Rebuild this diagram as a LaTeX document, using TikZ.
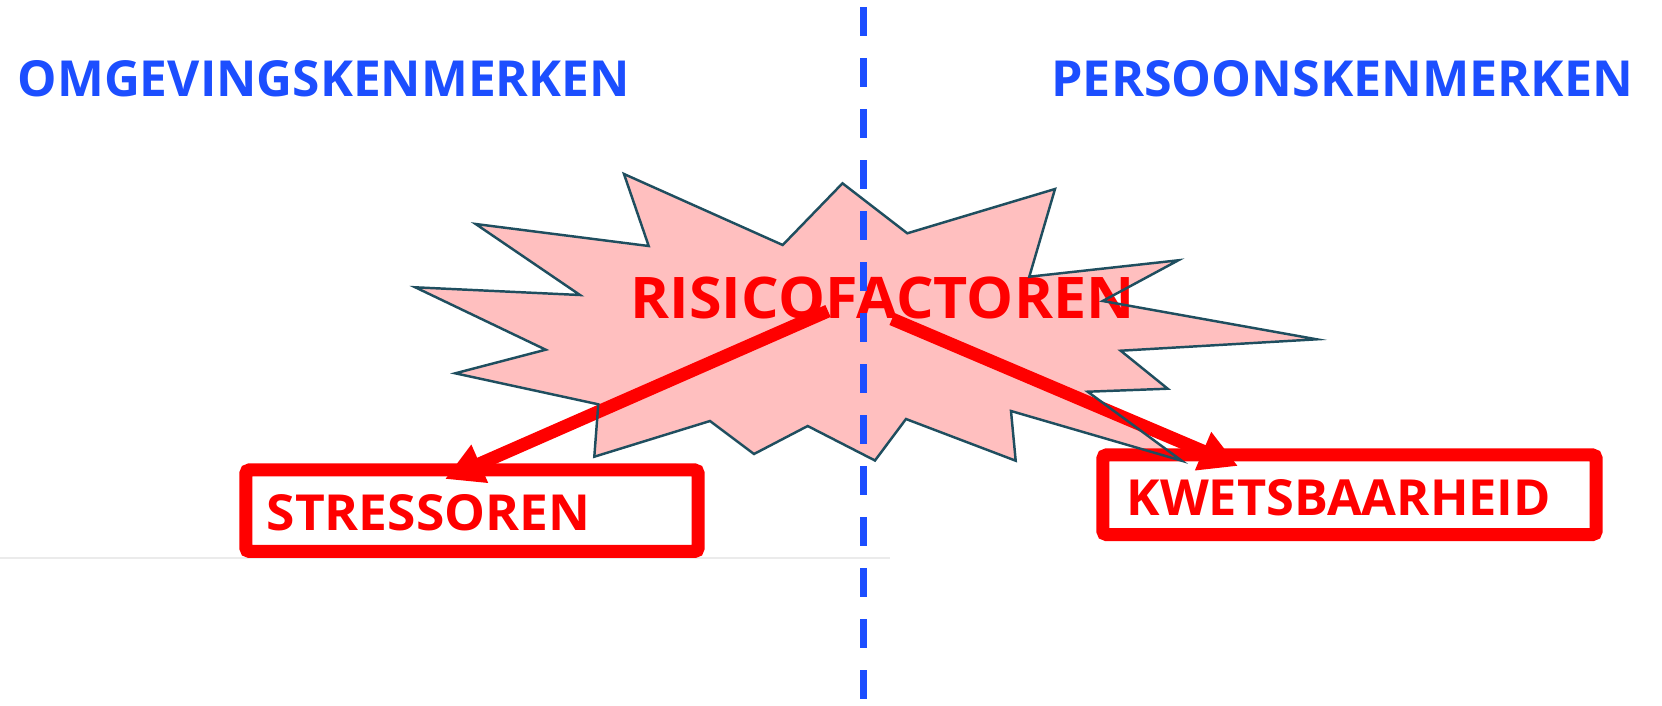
\documentclass[tikz,border=0pt]{standalone}
\usepackage{fontspec}
\setmainfont{Open Sans}
\usepackage{graphicx}
\usetikzlibrary{arrows.meta}
\definecolor{hblue}{RGB}{28,78,255}
\definecolor{starline}{RGB}{31,78,95}
\definecolor{lightgray}{RGB}{235,235,235}
\tikzset{
  heading/.style={anchor=base west, inner sep=0pt, text=hblue},
  redtext/.style={anchor=base west, inner sep=0pt, text=red},
  redbox/.style={draw=red, line width=3.7pt, rounded corners=1pt, inner sep=0pt, fill=white},
  bigarrow/.style={draw=red, line width=3.7pt, -{Triangle[length=10.8pt,width=11.1pt]}},
  burst/.style={draw=starline, line width=0.7pt, fill=red, fill opacity=0.25, draw opacity=1},
  divider/.style={draw=hblue, line width=2pt, dash pattern=on 8.25pt off 6.26pt}
}
\newcommand{\fitx}[3]{\resizebox{#1cm}{#2cm}{\bfseries #3}}
\begin{document}
\begin{tikzpicture}[x=0.01cm, y=-0.01cm]
\useasboundingbox (0,0) rectangle (1662,705);
% faint gray line
\draw[lightgray, line width=0.6pt] (0,558) -- (890,558);
% headings
\node[heading] (omg) at (17,96.7) {\fitx{6.116}{0.36}{OMGEVINGSKENMERKEN}};
\node[heading] (pers) at (1050.7,96.7) {\fitx{5.813}{0.36}{PERSOONSKENMERKEN}};
% boxes
\node[redbox, minimum width=4.52cm, minimum height=0.815cm] (sbox) at (472,510.7) {};
\node[redbox, minimum width=4.93cm, minimum height=0.795cm] (kbox) at (1349.5,494.75) {};
\node[redtext] (stxt) at (266,530) {\fitx{3.233}{0.36}{STRESSOREN}};
\node[redtext] (ktxt) at (1125.8,515) {\fitx{4.242}{0.36}{KWETSBAARHEID}};
% risk text
\node[redtext] (risk) at (630,318.3) {\fitx{5.033}{0.416}{RISICOFACTOREN}};
% arrows
\coordinate (ls) at (828,311);
\coordinate (lt) at (445,479);
\coordinate (rs) at (892,319);
\coordinate (rt) at (1238,466);
\draw[bigarrow] (ls) -- (lt);
\draw[bigarrow] (rs) -- (rt);
% starburst
\draw[burst] (624,174) -- (782.7,245) -- (842.5,183.3) -- (907.3,233.3) -- (1055,189)
 -- (1029.3,276.7) -- (1178.3,260.3) -- (1102.7,301) -- (1316.7,339.3) -- (1120.7,350.7)
 -- (1167.7,388.7) -- (1087.7,391.7) -- (1181.7,460.7) -- (1011,411) -- (1015.7,460.7)
 -- (906,419) -- (875,460.5) -- (807.7,426) -- (754,454) -- (710,421) -- (594.3,456.7)
 -- (598.3,404.3) -- (455.3,373.3) -- (545.7,349.7) -- (415.3,287.3) -- (580,295)
 -- (475.7,224) -- (648.7,246) -- cycle;
% divider
\coordinate (dtop) at (863.3,7);
\coordinate (dbot) at (863.3,705);
\draw[divider] (dtop) -- (dbot);
\end{tikzpicture}
\end{document}
